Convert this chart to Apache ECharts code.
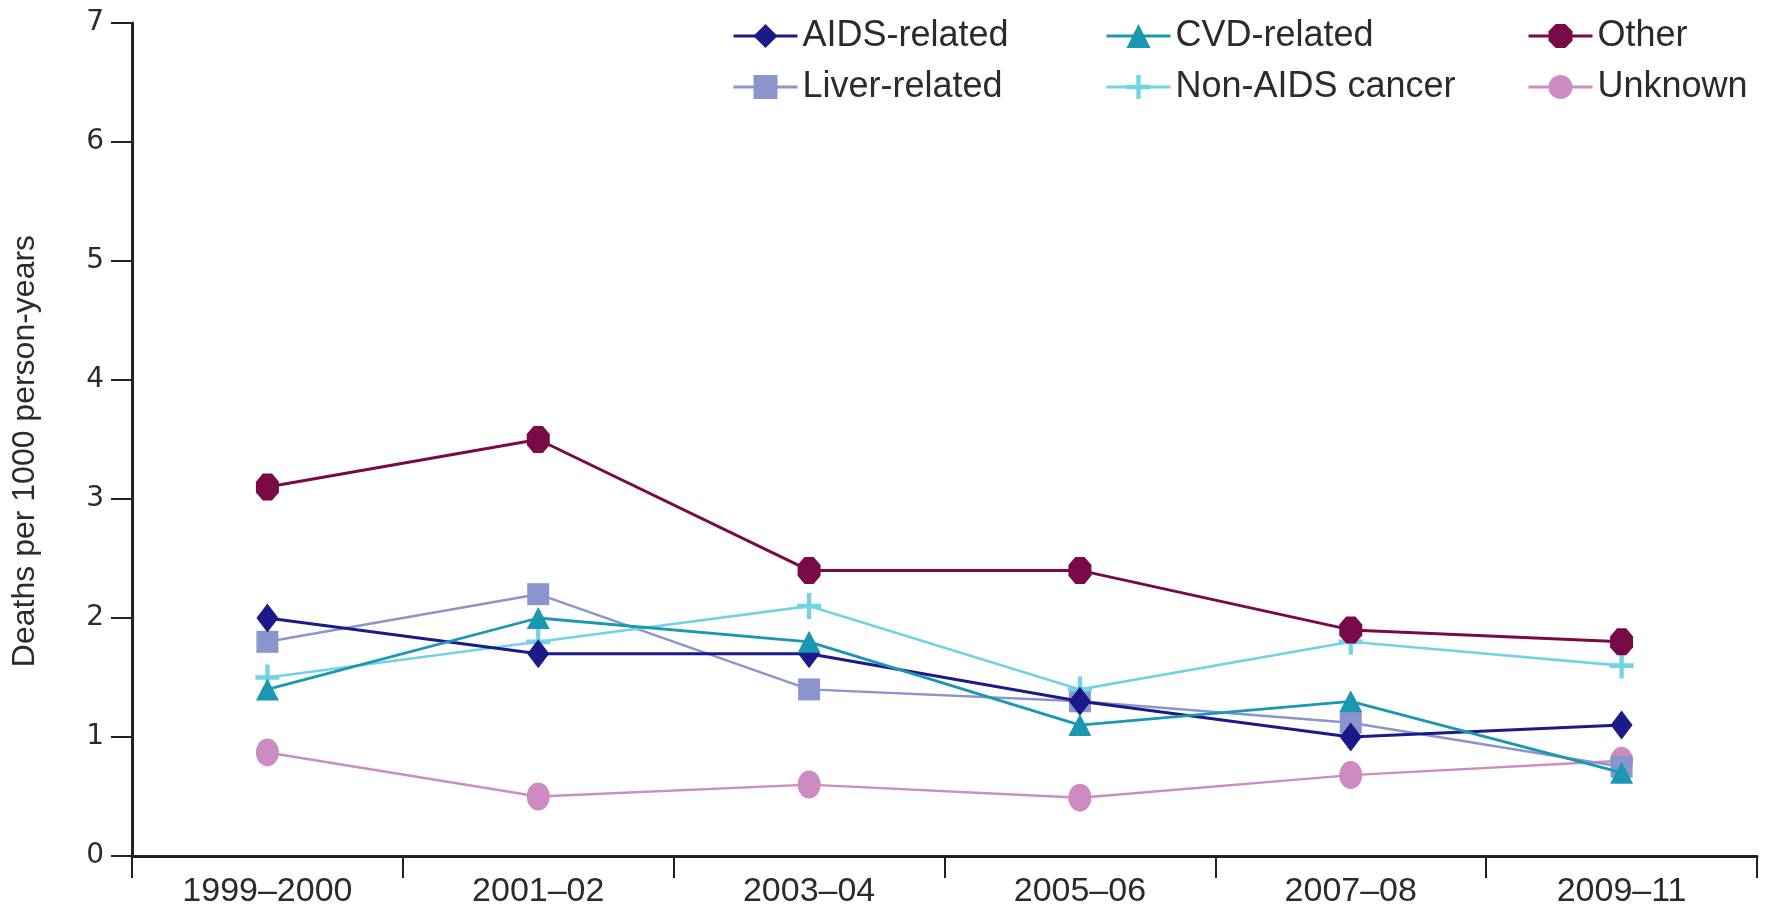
<!DOCTYPE html>
<html>
<head>
<meta charset="utf-8">
<title>Cause-specific death rates</title>
<script src="https://cdn.jsdelivr.net/npm/echarts@6/dist/echarts.min.js"></script>
<style>
  html, body { margin: 0; padding: 0; background: #ffffff; }
  #chart { width: 1769px; height: 909px; }
</style>
</head>
<body>
<div id="chart"></div>
<script>
// Calendar periods on the x axis
const periods = ['1999–2000', '2001–02', '2003–04', '2005–06', '2007–08', '2009–11'];

// Deaths per 1000 person-years, by cause
const aidsRelated     = [2.0, 1.7, 1.7, 1.3, 1.0, 1.1];
const liverRelated    = [1.8, 2.2, 1.4, 1.3, 1.12, 0.75];
const cvdRelated      = [1.4, 2.0, 1.8, 1.1, 1.3, 0.7];
const nonAidsCancer   = [1.5, 1.8, 2.1, 1.4, 1.8, 1.6];
const otherCause      = [3.1, 3.5, 2.4, 2.4, 1.9, 1.8];
const unknownCause    = [0.87, 0.5, 0.6, 0.49, 0.68, 0.8];

const yTicks = { min: 0, max: 7, interval: 1 };

const OCTAGON = 'path://M3,0 L7,0 L10,3 L10,7 L7,10 L3,10 L0,7 L0,3 Z';
const PLUS = 'path://M4.1,0 H5.9 V4.1 H10 V5.9 H5.9 V10 H4.1 V5.9 H0 V4.1 H4.1 Z';

const TEXT = '#2b2b2b';
const FONT = 'Liberation Sans, Arial, sans-serif';

function lineSeries(name, data, color, symbol, size, width, z) {
  return {
    name: name,
    type: 'line',
    data: data,
    symbol: symbol,
    symbolSize: size,
    showAllSymbol: true,
    z: z,
    lineStyle: { color: color, width: width },
    itemStyle: { color: color, borderWidth: 0 },
    emphasis: { disabled: true },
    animation: false
  };
}

const legendBase = {
  orient: 'vertical',
  top: 13,
  itemWidth: 64,
  itemHeight: 30,
  itemGap: 15,
  selectedMode: false,
  lineStyle: { width: 3 },
  textStyle: { fontFamily: FONT, fontSize: 36, color: TEXT, padding: [0, 0, 0, 0] }
};

const chart = echarts.init(document.getElementById('chart'), null, { renderer: 'canvas' });

chart.setOption({
  backgroundColor: '#ffffff',
  animation: false,
  grid: { left: 132, right: 12, top: 23, bottom: 52, containLabel: false },
  legend: [
    Object.assign({}, legendBase, { left: 727, data: ['AIDS-related', 'Liver-related'] }),
    Object.assign({}, legendBase, { left: 1100, data: ['CVD-related', 'Non-AIDS cancer'] }),
    Object.assign({}, legendBase, { left: 1522, data: ['Other', 'Unknown'] })
  ],
  xAxis: {
    type: 'category',
    data: periods,
    boundaryGap: true,
    axisLine: { show: true, lineStyle: { color: '#222', width: 3 } },
    axisTick: { show: true, inside: false, length: 22, lineStyle: { color: '#222', width: 2 } },
    axisLabel: { fontFamily: FONT, fontSize: 34, color: TEXT, margin: 19 },
    splitLine: { show: false }
  },
  yAxis: {
    type: 'value',
    min: yTicks.min,
    max: yTicks.max,
    interval: yTicks.interval,
    axisLine: { show: true, onZero: false, lineStyle: { color: '#222', width: 3 } },
    axisTick: { show: true, inside: false, length: 21, lineStyle: { color: '#222', width: 2 } },
    axisLabel: { fontFamily: 'DejaVu Sans, Verdana, sans-serif', fontSize: 28, color: TEXT, margin: 28 },
    splitLine: { show: false }
  },
  graphic: [{
    type: 'text',
    x: 25,
    y: 451,
    rotation: Math.PI / 2,
    style: {
      text: 'Deaths per 1000 person-years',
      fontFamily: FONT,
      fontSize: 32,
      fill: TEXT,
      align: 'center',
      verticalAlign: 'middle'
    }
  }],
  series: [
    lineSeries('Unknown', unknownCause, '#cc8cc1', 'circle', [23, 28], 2.4, 2),
    lineSeries('Liver-related', liverRelated, '#8b95cd', 'rect', [22, 22], 2.4, 3),
    lineSeries('Non-AIDS cancer', nonAidsCancer, '#72d3e6', PLUS, [24, 26], 2.6, 4),
    lineSeries('AIDS-related', aidsRelated, '#1c1a88', 'diamond', [22, 29], 3, 5),
    lineSeries('CVD-related', cvdRelated, '#1a98b2', 'triangle', [23, 22], 2.8, 6),
    lineSeries('Other', otherCause, '#7a0a47', OCTAGON, [23, 27], 3, 7)
  ]
});
</script>
</body>
</html>
